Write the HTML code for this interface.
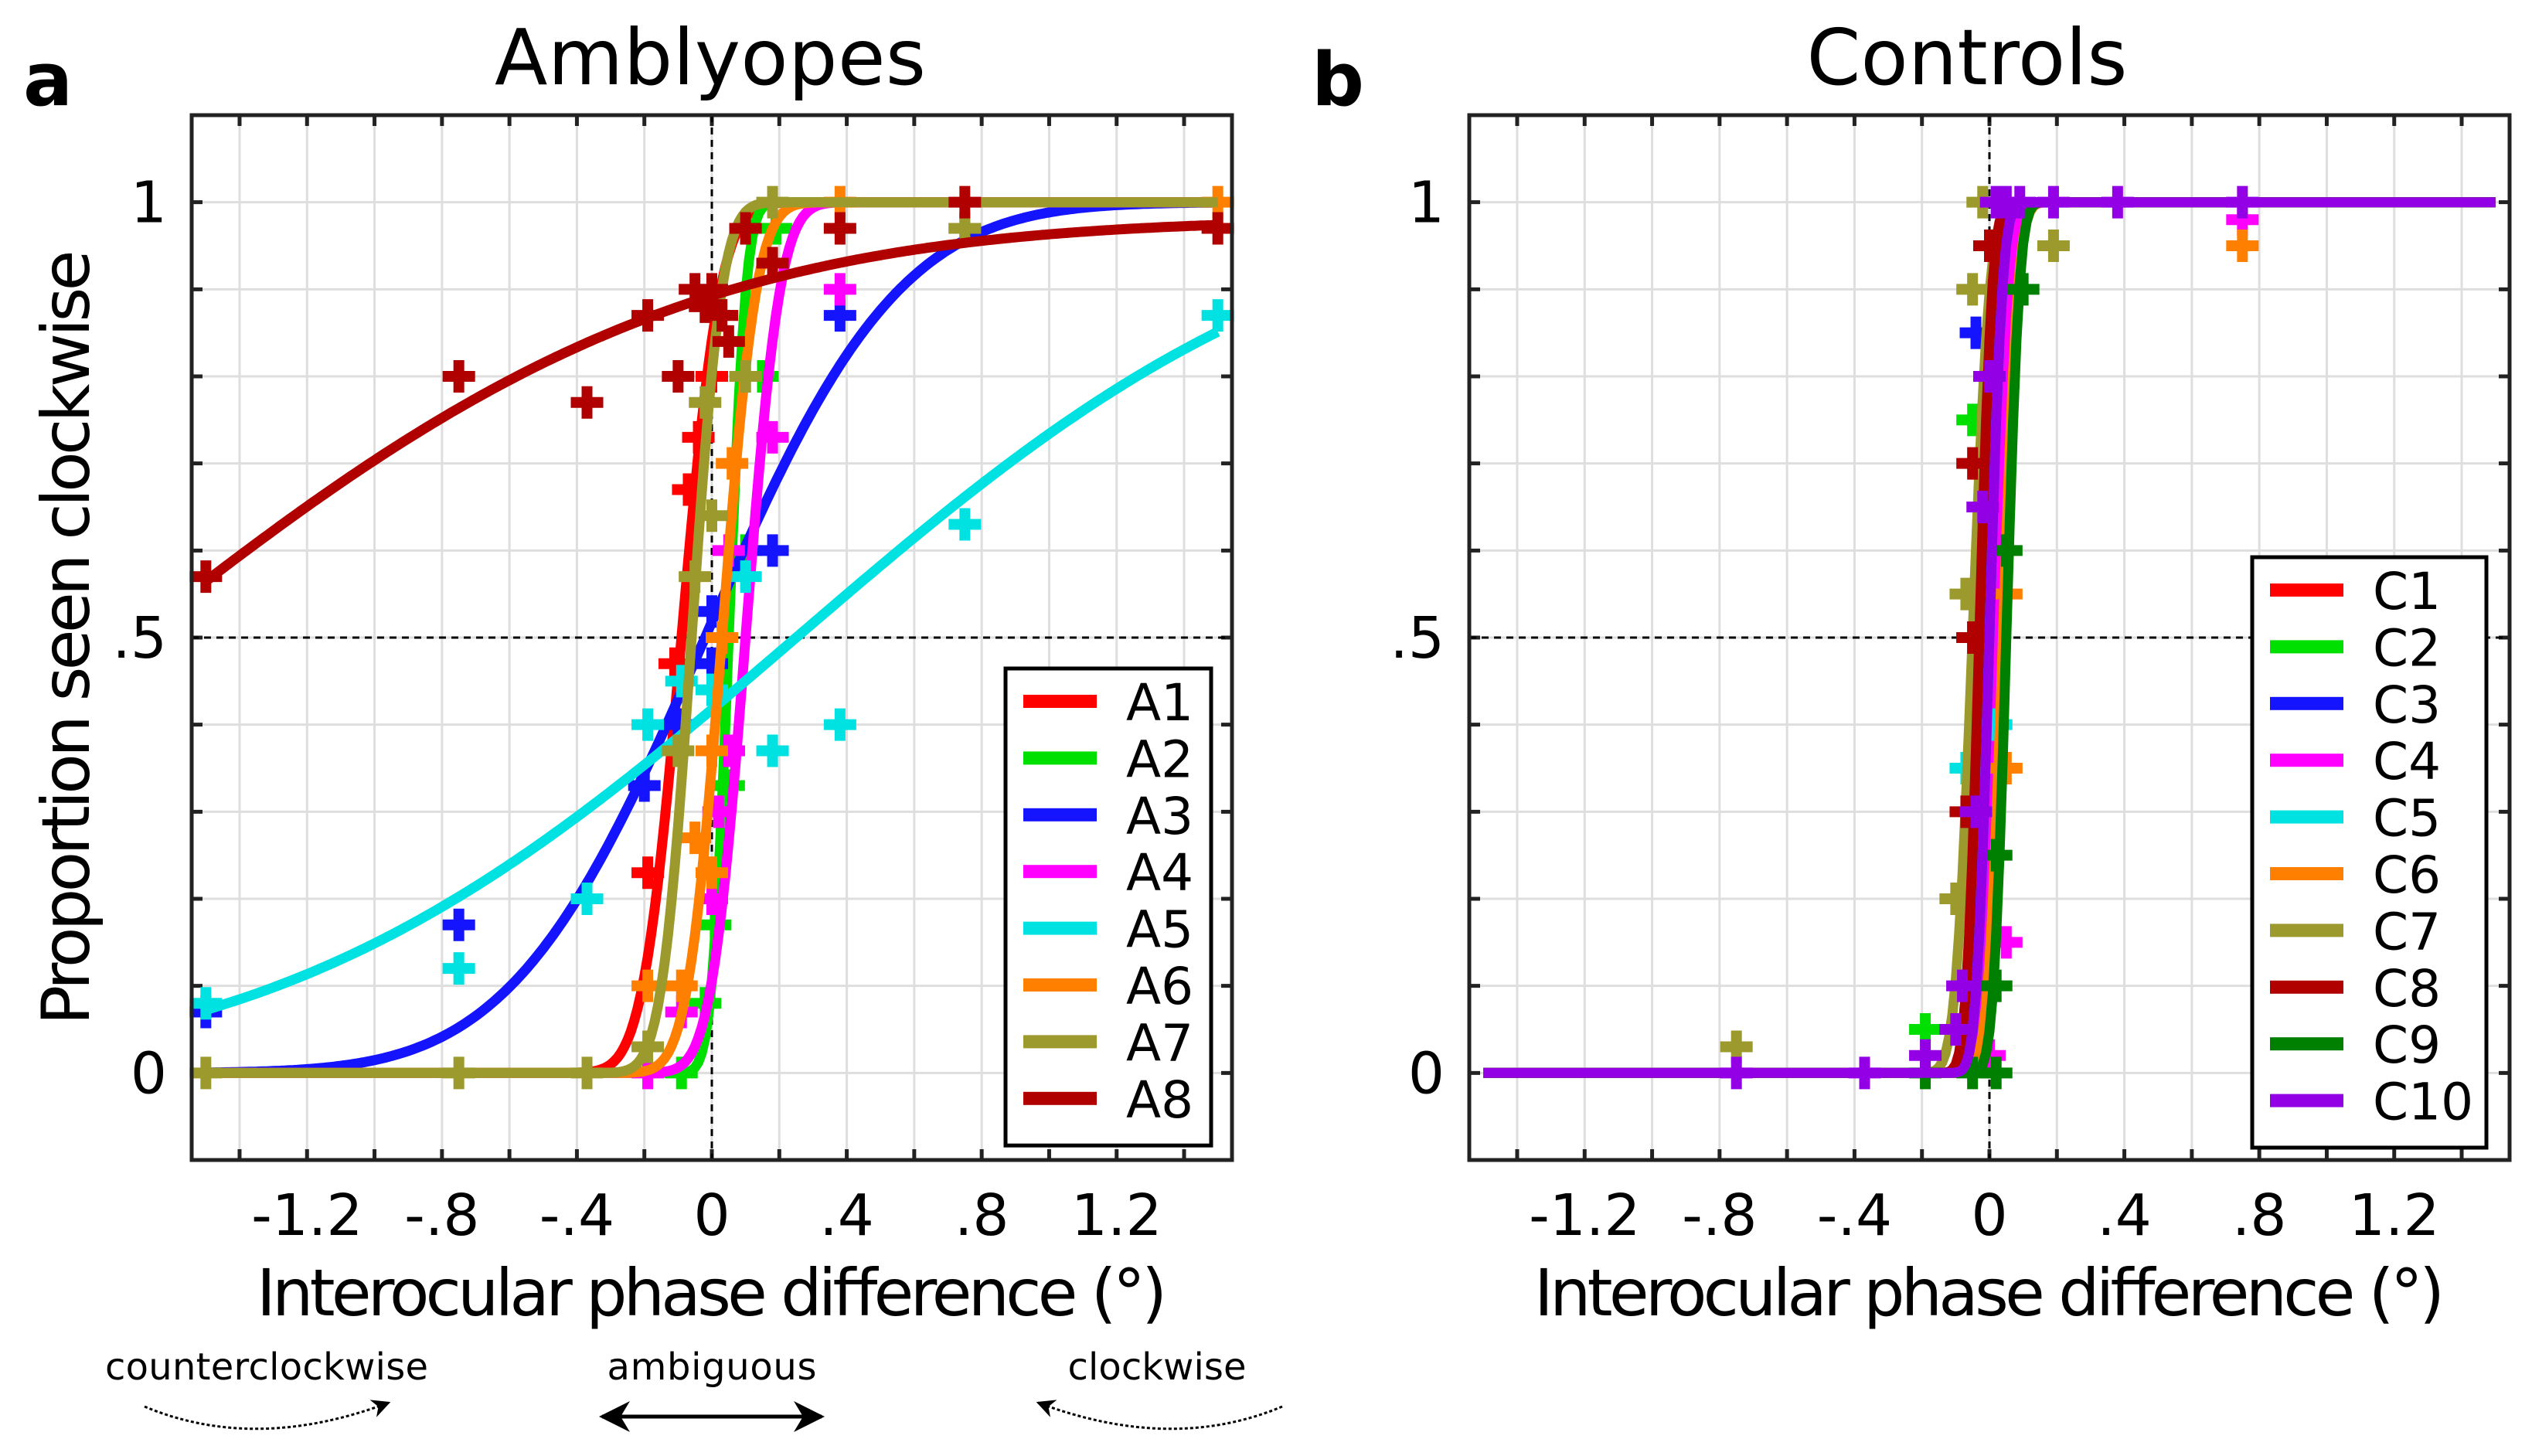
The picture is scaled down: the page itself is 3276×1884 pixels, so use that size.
<!DOCTYPE html>
<html><head><meta charset="utf-8"><style>
html,body{margin:0;padding:0;background:#fff}
svg{display:block}
text{font-family:"DejaVu Sans","Liberation Sans",sans-serif;fill:#000}
</style></head><body>
<svg id="fig" width="3276" height="1884" viewBox="0 0 3276 1884" xmlns="http://www.w3.org/2000/svg">
<defs>
<marker id="ah" viewBox="0 0 10 10" refX="9" refY="5" markerWidth="8" markerHeight="8" orient="auto-start-reverse"><path d="M0,0 L10,5 L0,10 L3,5 z" fill="#000"/></marker>
</defs>
<text x="30" y="136" font-size="95" font-weight="bold">a</text>
<text x="1697" y="136" font-size="95" font-weight="bold">b</text>
<text x="919" y="109" font-size="100" text-anchor="middle" textLength="558">Amblyopes</text>
<text x="2545" y="109" font-size="100" text-anchor="middle" textLength="415">Controls</text>
<text transform="translate(115,825) rotate(-90)" font-size="86" text-anchor="middle" textLength="1003">Proportion seen clockwise</text>
<text x="921" y="1702" font-size="84" text-anchor="middle" textLength="1178">Interocular phase difference (°)</text>
<text x="2574" y="1702" font-size="84" text-anchor="middle" textLength="1178">Interocular phase difference (°)</text>
<g>
<text x="345" y="1785" font-size="48" text-anchor="middle" textLength="418">counterclockwise</text>
<text x="921" y="1785" font-size="48" text-anchor="middle" textLength="271">ambiguous</text>
<text x="1497" y="1785" font-size="48" text-anchor="middle" textLength="231">clockwise</text>
<path d="M187,1820 Q330,1880 503,1815" fill="none" stroke="#000" stroke-width="3" stroke-dasharray="4,3" marker-end="url(#ah)"/>
<path d="M779,1833 L1063,1833" fill="none" stroke="#000" stroke-width="5" marker-start="url(#ah)" marker-end="url(#ah)"/>
<path d="M1659,1820 Q1516,1880 1343,1815" fill="none" stroke="#000" stroke-width="3" stroke-dasharray="4,3" marker-end="url(#ah)"/>
</g>
<g id="panelA"></g>
<g id="panelB"></g>
</svg>
<script>
const xTickLabels = ["-1.2","-.8","-.4","0",".4",".8","1.2"];
const xTickValues = [-1.2,-0.8,-0.4,0,0.4,0.8,1.2];
const yTickLabels = ["0",".5","1"];
const yTickValues = [0,0.5,1];

const amblyNames = ["A1","A2","A3","A4","A5","A6","A7","A8"];
const amblyColors = ["#ff0000","#00e000","#1414ff","#ff00ff","#00e2e2","#ff8000","#9c9a2c","#b00000"];
const amblyMu = [-0.09,0.05,-0.02,0.1,0.25,0.03,-0.06,-1.75];
const amblySigma = [0.09,0.04,0.45,0.08,1.2,0.08,0.07,1.3];
const amblyLapse = [0,0,0,0,0,0,0,0.02];
const amblyPoints = [
 [[-0.19,0.23],[-0.11,0.47],[-0.07,0.67],[-0.04,0.73],[0.0,0.8],[0.03,0.87],[0.1,0.97]],
 [[-0.09,0],[-0.02,0.08],[0.01,0.17],[0.05,0.33],[0.1,0.6],[0.15,0.8],[0.19,0.97]],
 [[-1.5,0.07],[-0.75,0.17],[-0.2,0.33],[-0.1,0.4],[0.0,0.47],[0.0,0.53],[0.05,0.37],[0.18,0.6],[0.38,0.87]],
 [[-0.19,0],[-0.09,0.07],[0,0.2],[0.02,0.3],[0.05,0.37],[0.05,0.6],[0.18,0.73],[0.38,0.9],[0.75,0.97]],
 [[-1.5,0.08],[-0.75,0.12],[-0.37,0.2],[-0.19,0.4],[-0.09,0.45],[0,0.44],[0.1,0.57],[0.18,0.37],[0.38,0.4],[0.75,0.63],[1.5,0.87]],
 [[-0.19,0.1],[-0.09,0.1],[-0.05,0.27],[0,0.23],[0,0.37],[0.03,0.5],[0.06,0.7],[0.1,0.8],[0.38,1],[1.5,1]],
 [[-1.5,0],[-0.75,0],[-0.37,0],[-0.19,0.03],[-0.1,0.37],[-0.05,0.57],[0,0.64],[-0.02,0.77],[0.1,0.8],[0.18,1],[0.75,0.97]],
 [[-1.5,0.57],[-0.75,0.8],[-0.37,0.77],[-0.19,0.87],[-0.1,0.8],[-0.05,0.9],[0,0.9],[-0.02,0.88],[0.03,0.87],[0.05,0.84],[0.1,0.97],[0.18,0.93],[0.38,0.97],[0.75,1],[1.5,0.97]]
];

const ctrlNames = ["C1","C2","C3","C4","C5","C6","C7","C8","C9","C10"];
const ctrlColors = ["#ff0000","#00e000","#1414ff","#ff00ff","#00e2e2","#ff8000","#9c9a2c","#b00000","#008000","#9400e6"];
const ctrlMu = [-0.02,0.0,-0.01,0.02,0.0,0.04,-0.05,-0.03,0.05,0.0];
const ctrlSigma = [0.03,0.03,0.03,0.03,0.03,0.035,0.04,0.03,0.03,0.03];
const ctrlLapse = [0,0,0,0,0,0,0,0,0,0];
const ctrlPoints = [
 [[-0.05,0.5]],
 [[-0.19,0.05],[-0.05,0.75]],
 [[-0.04,0.85]],
 [[0.75,0.98],[0.05,0.15],[0,0.02]],
 [[-0.07,0.35],[0.02,0.4]],
 [[0.75,0.95],[0.05,0.55],[0.05,0.35]],
 [[-0.75,0.03],[-0.1,0.2],[-0.07,0.55],[-0.05,0.9],[-0.02,1],[0.19,0.95]],
 [[0,0.95],[-0.05,0.7],[-0.05,0.5],[-0.07,0.3]],
 [[-0.19,0],[-0.05,0],[0.02,0],[0.02,0.1],[0.02,0.25],[0.05,0.6],[0.1,0.9]],
 [[-0.75,0],[-0.37,0],[-0.19,0.02],[-0.1,0.05],[-0.08,0.1],[-0.04,0.3],[-0.02,0.65],[0,0.8],[0.02,1],[0.05,1],[0.09,1],[0.19,1],[0.38,1],[0.75,1]]
];

const NS="http://www.w3.org/2000/svg";
function mk(tag,parent){const e=document.createElementNS(NS,tag);parent.appendChild(e);return e;}
function erf(x){const s=x<0?-1:1;x=Math.abs(x);const t=1/(1+0.3275911*x);
 const y=1-(((((1.061405429*t-1.453152027)*t)+1.421413741)*t-0.284496736)*t+0.254829592)*t*Math.exp(-x*x);return s*y;}
function phi(z){return 0.5*(1+erf(z/Math.SQRT2));}

function panel(g,L,T,R,B,names,colors,mu,sig,lapse,pts,leg){
 const xmin=-1.542,xmax=1.542,ymin=-0.1,ymax=1.1;
 const sx=v=>L+(v-xmin)/(xmax-xmin)*(R-L);
 const sy=v=>B-(v-ymin)/(ymax-ymin)*(B-T);
 const grid=mk('g',g);
 
 
 for(let i=-7;i<=7;i++){const x=sx(i*0.2);
  const l=mk('line',grid);l.setAttribute('x1',x);l.setAttribute('x2',x);l.setAttribute('y1',T);l.setAttribute('y2',B);
  l.setAttribute('stroke','#dedede');l.setAttribute('stroke-width','3');
  
  }
 for(let i=-1;i<=11;i++){const y=sy(i*0.1);
  const l=mk('line',grid);l.setAttribute('x1',L);l.setAttribute('x2',R);l.setAttribute('y1',y);l.setAttribute('y2',y);
  l.setAttribute('stroke','#dedede');l.setAttribute('stroke-width','3');
  
  }
 const tk=mk('g',g);
 
 
 let d='';
 for(let i=-7;i<=7;i++){const x=sx(i*0.2);d+=`M${x},${T}v14M${x},${B}v-14`;}
 for(let i=0;i<=10;i++){const y=sy(i*0.1);d+=`M${L},${y}h14M${R},${y}h-14`;}
 const tp=mk('path',tk);tp.setAttribute('d',d);tp.setAttribute('stroke','#222');tp.setAttribute('stroke-width','5');
 const z1=mk('line',g);z1.setAttribute('x1',sx(0));z1.setAttribute('x2',sx(0));z1.setAttribute('y1',T);z1.setAttribute('y2',B);
 z1.setAttribute('stroke','#000');z1.setAttribute('stroke-width','3');z1.setAttribute('stroke-dasharray','9,7');
 
 
 const z2=mk('line',g);z2.setAttribute('x1',L);z2.setAttribute('x2',R);z2.setAttribute('y1',sy(0.5));z2.setAttribute('y2',sy(0.5));
 z2.setAttribute('stroke','#000');z2.setAttribute('stroke-width','3');z2.setAttribute('stroke-dasharray','9,7');
 
 
 xTickValues.forEach((v,i)=>{const t=mk('text',g);t.setAttribute('x',sx(v));t.setAttribute('y',1598);
  t.setAttribute('text-anchor','middle');t.setAttribute('font-size','74');t.textContent=xTickLabels[i];
  
  });
 yTickValues.forEach((v,i)=>{const t=mk('text',g);t.setAttribute('x',L-32);t.setAttribute('y',sy(v)+26);
  t.setAttribute('text-anchor','end');t.setAttribute('font-size','74');t.textContent=yTickLabels[i];
  
  });
 names.forEach((n,k)=>{
  const sg=mk('g',g);
  
  
  pts[k].forEach(p=>{const x=sx(p[0]),y=sy(p[1]);
   const m=mk('path',sg);m.setAttribute('d',`M${x-21},${y-7}h14v-14h14v14h14v14h-14v14h-14v-14h-14z`);
   m.setAttribute('fill',colors[k]);
   
   });
  let dd='';
  for(let j=0;j<=300;j++){const xv=-1.5+3*j/300;
   const yv=(1-lapse[k])*phi((xv-mu[k])/sig[k]);
   dd+=(j?'L':'M')+sx(xv).toFixed(1)+','+sy(yv).toFixed(1);}
  const c=mk('path',sg);c.setAttribute('d',dd);c.setAttribute('fill','none');c.setAttribute('stroke',colors[k]);
  c.setAttribute('stroke-width','13');c.setAttribute('stroke-linejoin','round');
  
  
 });
 const fr=mk('rect',g);fr.setAttribute('x',L);fr.setAttribute('y',T);fr.setAttribute('width',R-L);fr.setAttribute('height',B-T);
 fr.setAttribute('fill','none');fr.setAttribute('stroke','#222');fr.setAttribute('stroke-width','5');
 
 
 const lg=mk('g',g);
 
 
 const lb=mk('rect',lg);lb.setAttribute('x',leg.x);lb.setAttribute('y',leg.y);lb.setAttribute('width',leg.w);
 lb.setAttribute('height',names.length*73.4+30);lb.setAttribute('fill','#fff');lb.setAttribute('stroke','#000');lb.setAttribute('stroke-width','5');
 names.forEach((n,k)=>{const y=leg.y+42+k*73.4;
  const e=mk('g',lg);
  
  
  const r=mk('rect',e);r.setAttribute('x',leg.x+23);r.setAttribute('y',y-8);r.setAttribute('width',95);r.setAttribute('height',17);r.setAttribute('fill',colors[k]);
  const t=mk('text',e);t.setAttribute('x',leg.x+156);t.setAttribute('y',y+25);t.setAttribute('font-size','66');t.textContent=n;});
}
panel(document.getElementById('panelA'),248,149,1594,1501,amblyNames,amblyColors,amblyMu,amblySigma,amblyLapse,amblyPoints,{x:1301,y:865,w:266});
panel(document.getElementById('panelB'),1901,149,3247,1501,ctrlNames,ctrlColors,ctrlMu,ctrlSigma,ctrlLapse,ctrlPoints,{x:2914,y:721,w:303});
</script>
</body></html>
